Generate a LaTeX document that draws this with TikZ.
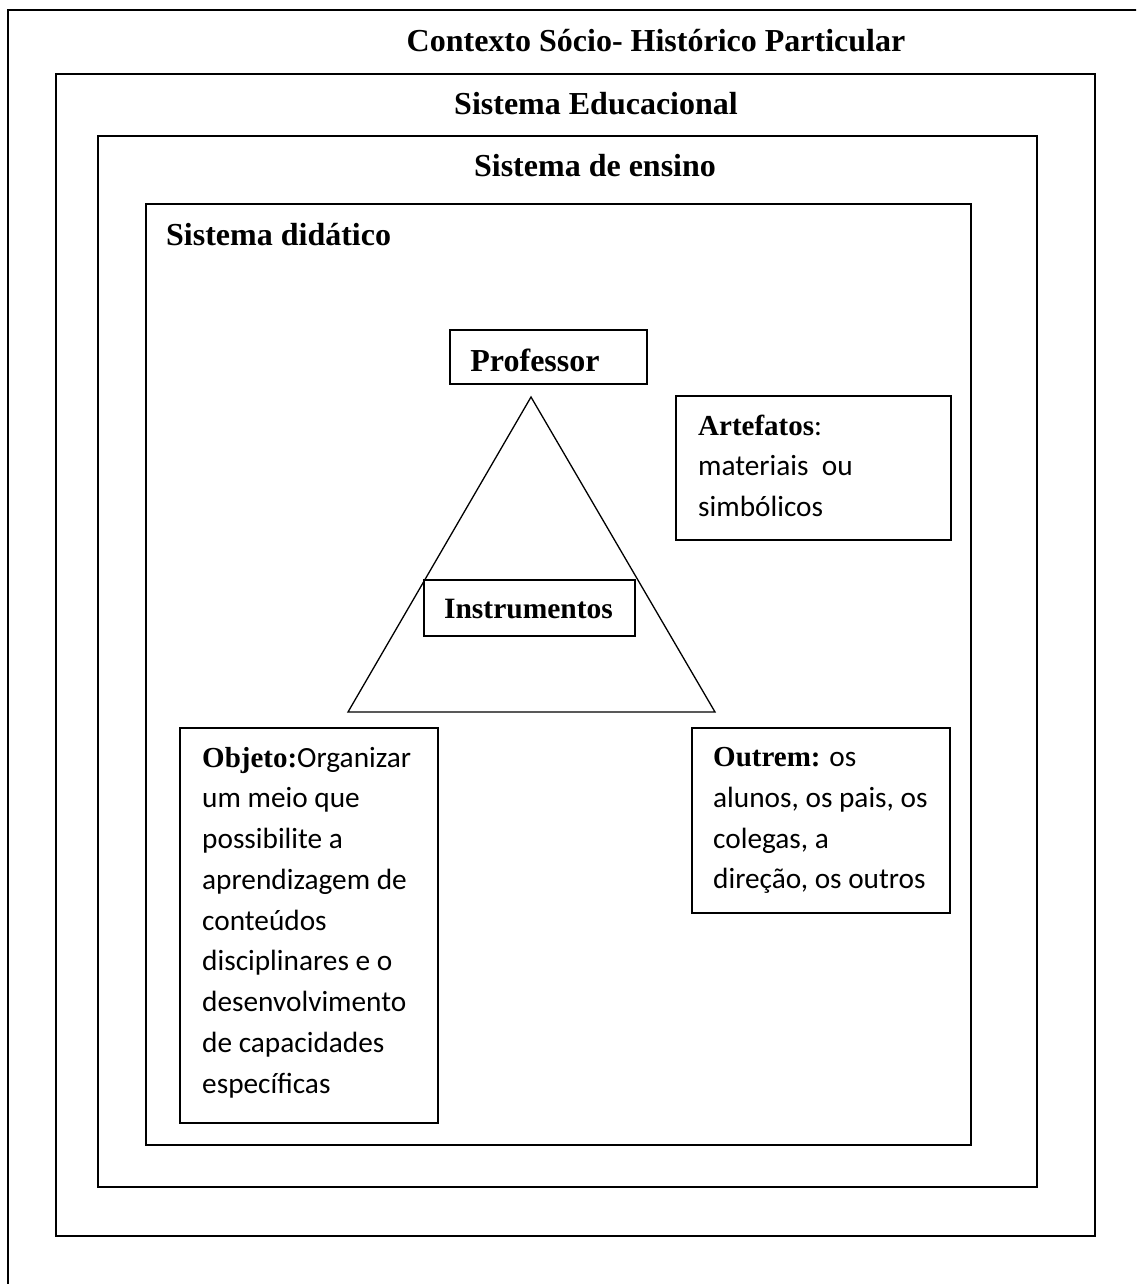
\documentclass[tikz,border=0pt]{standalone}
\usepackage{fontspec}
\setmainfont{Liberation Serif}
\newfontfamily\calfont{Carlito}
\newcommand\boldtimes[1]{{\rmfamily\bfseries\fontsize{29}{40.75}\selectfont #1}}
\begin{document}
\begin{tikzpicture}[x=1pt,y=-1pt,
  frame/.style={draw, line width=1.9pt},
  smallbox/.style={draw, line width=1.7pt},
  tri/.style={draw, line width=1.3pt},
  header/.style={font=\rmfamily\bfseries\fontsize{32}{38}\selectfont, inner sep=0pt, anchor=base},
  boxtext/.style={font=\calfont\fontsize{29.3}{40.75}\selectfont, inner sep=0pt, anchor=base west}]
\useasboundingbox (0,0) rectangle (1136,1284);
\fill[white] (0,0) rectangle (1136,1284);
\begin{scope}
\clip (0,0) rectangle (1136,1284);
\draw[frame] (8,10) rectangle (1160,1310);
\end{scope}
\draw[frame] (56,74) rectangle (1095,1236);
\draw[frame] (98,136) rectangle (1037,1187);
\draw[frame] (146,204) rectangle (971,1145);

\node[header] (ctx) at (656,52) {Contexto Sócio- Histórico Particular};
\node[header] (edu) at (596,115) {Sistema Educacional};
\node[header] (ens) at (595,177) {Sistema de ensino};
\node[header, anchor=base west] (did) at (166,245) {Sistema didático};

% triangle
\coordinate (apex) at (531,397);
\coordinate (bl) at (348,712);
\coordinate (br) at (715,712);
\draw[tri] (apex) -- (br) -- (bl) -- cycle;

% Professor
\draw[smallbox] (450,330) rectangle (647,384);
\node[header] (prof) at (535,371) {Professor};

% Instrumentos
\draw[smallbox, fill=white] (424,580) rectangle (635,636);
\node[header, font=\rmfamily\bfseries\fontsize{29.5}{36}\selectfont] (instr) at (528.5,618) {Instrumentos};

% Artefatos
\draw[smallbox] (676,396) rectangle (951,540);
\node[boxtext] (art) at (698,435) {\begin{tabular}[t]{@{}l@{}}\boldtimes{Artefatos}:\\ materiais\ \ ou\\ simbólicos\end{tabular}};

% Outrem
\draw[smallbox] (692,728) rectangle (950,913);
\node[boxtext] (out) at (713,766.5) {\begin{tabular}[t]{@{}l@{}}\boldtimes{Outrem:} os\\ alunos, os pais, os\\ colegas, a\\ direção, os outros\end{tabular}};

% Objeto
\draw[smallbox] (180,728) rectangle (438,1123);
\node[boxtext] (obj) at (202,767) {\begin{tabular}[t]{@{}l@{}}\boldtimes{Objeto:}Organizar\\ um meio que\\ possibilite a\\ aprendizagem de\\ conteúdos\\ disciplinares e o\\ desenvolvimento\\ de capacidades\\ específicas\end{tabular}};
\end{tikzpicture}
\end{document}
